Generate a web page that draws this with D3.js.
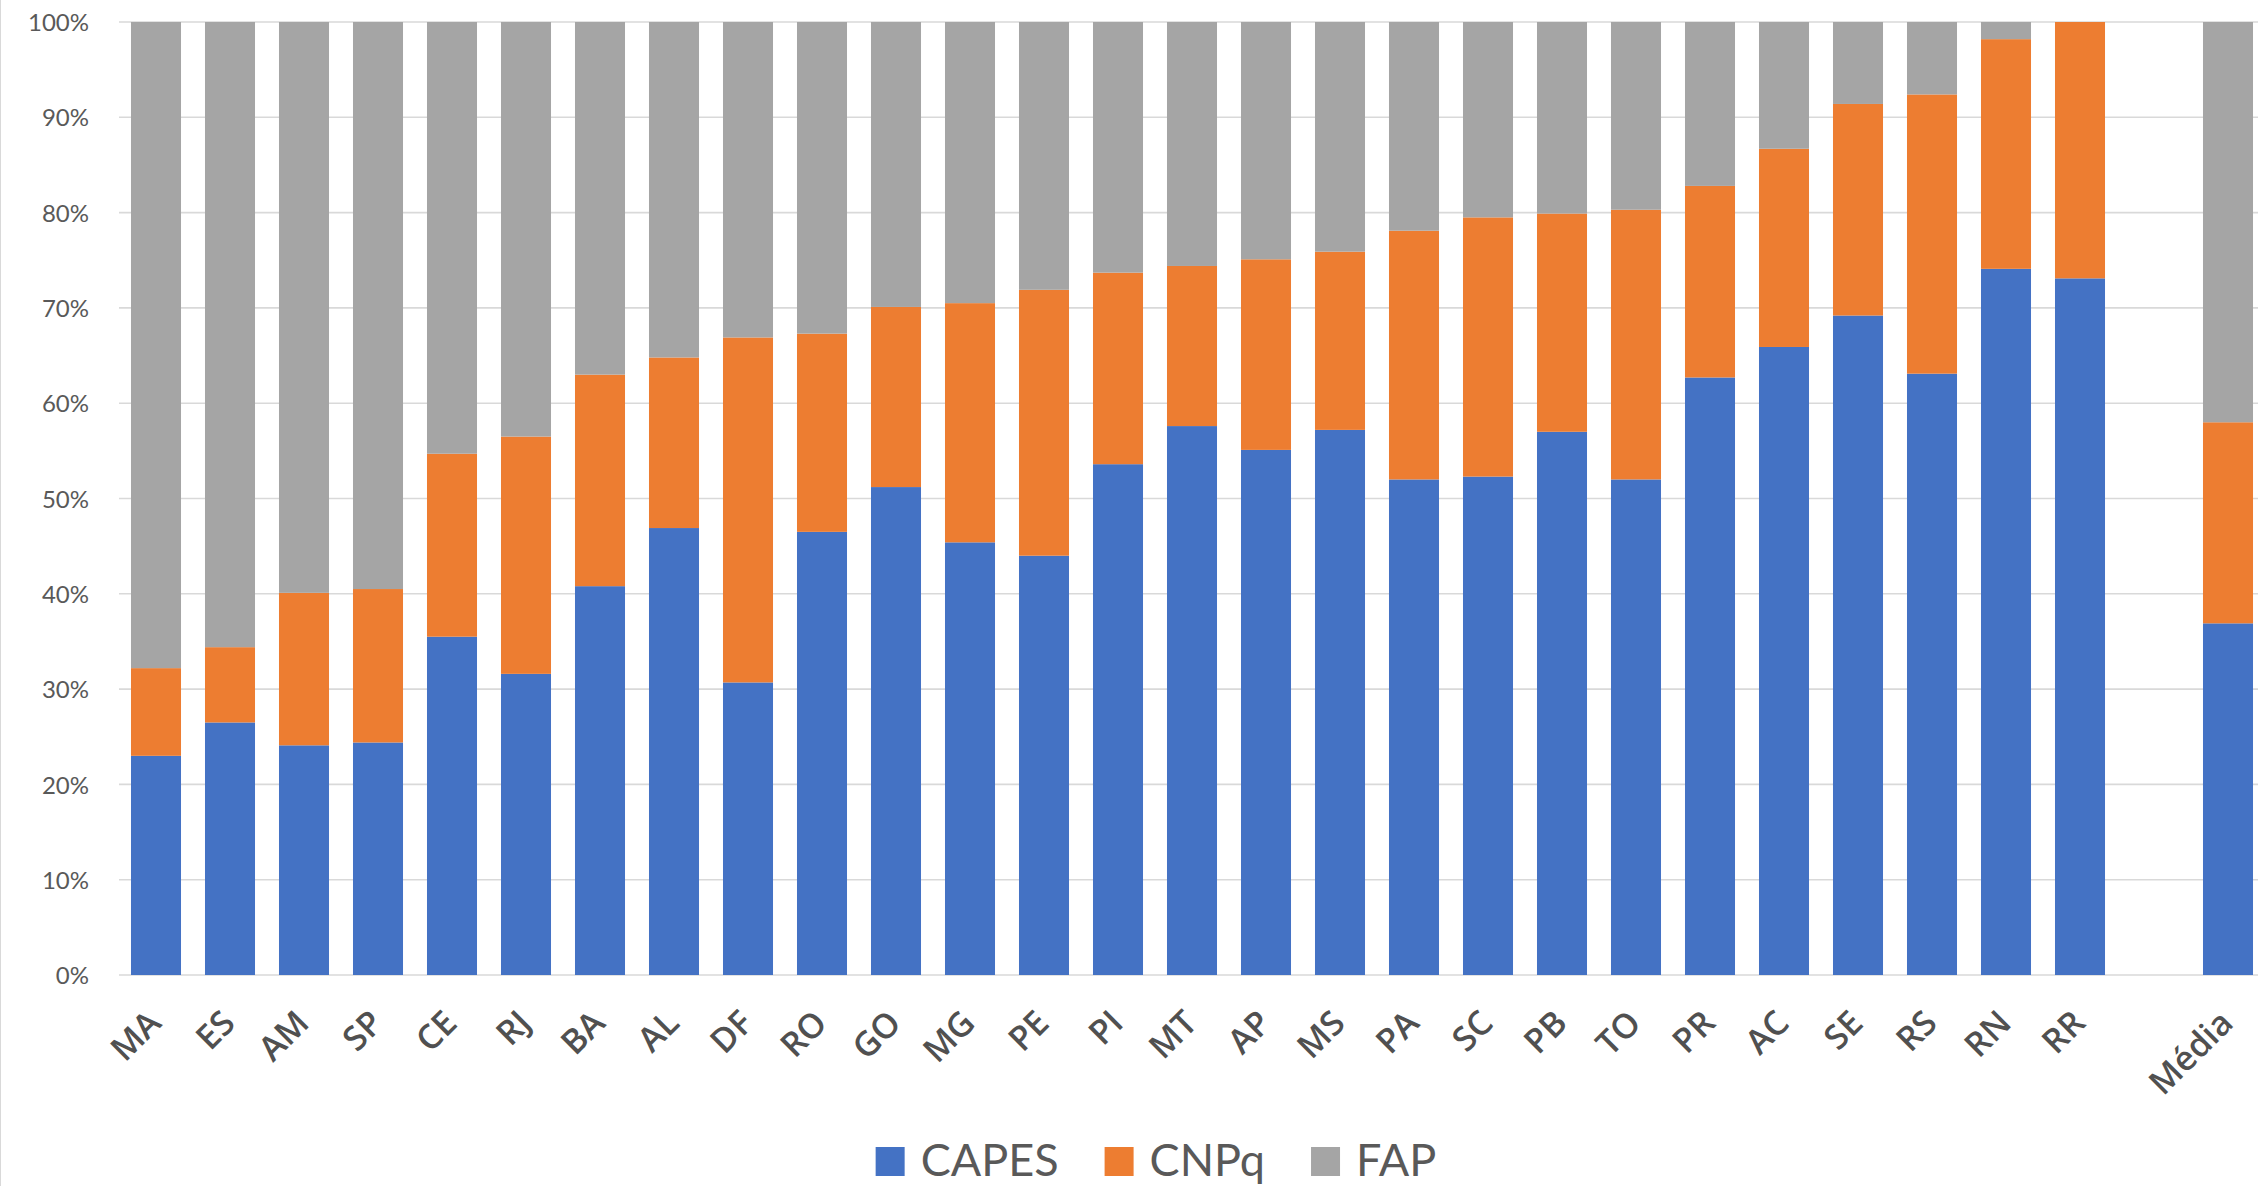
<!DOCTYPE html>
<html>
<head>
<meta charset="utf-8">
<script src="https://cdn.jsdelivr.net/npm/d3@7"></script>
<style>
  html, body { margin: 0; padding: 0; background: #fff; }
  svg { display: block; }
</style>
</head>
<body>
<svg id="chart" width="2258" height="1186"></svg>
<script>
const categories = ["MA","ES","AM","SP","CE","RJ","BA","AL","DF","RO","GO","MG","PE","PI","MT","AP","MS","PA","SC","PB","TO","PR","AC","SE","RS","RN","RR","","Média"];
const capes = [23.0,26.5,24.1,24.4,35.5,31.6,40.8,46.9,30.7,46.5,51.2,45.4,44.0,53.6,57.6,55.1,57.2,52.0,52.3,57.0,52.0,62.7,65.9,69.2,63.1,74.1,73.1,null,36.9];
const cnpq  = [9.2,7.9,16.0,16.1,19.2,24.9,22.2,17.9,36.2,20.8,18.9,25.1,27.9,20.1,16.8,20.0,18.7,26.1,27.2,22.9,28.3,20.1,20.8,22.2,29.3,24.1,26.9,null,21.1];
const fap   = [67.8,65.6,59.9,59.5,45.3,43.5,37.0,35.2,33.1,32.7,29.9,29.5,28.1,26.3,25.6,24.9,24.1,21.9,20.5,20.1,19.7,17.2,13.3,8.6,7.6,1.8,0.0,null,42.0];
const seriesNames = ["CAPES","CNPq","FAP"];
const seriesColors = ["#4472C4","#ED7D31","#A5A5A5"];
const yTicks = [0,10,20,30,40,50,60,70,80,90,100];

const rows = categories.map((c,i) => ({key: "k"+i, label: c, CAPES: capes[i] || 0, CNPq: cnpq[i] || 0, FAP: fap[i] || 0}));

const svg = d3.select("#chart");
const plotLeft = 119, plotRight = 2265, plotTop = 22, plotBottom = 975;

const x = d3.scaleBand().domain(rows.map(d => d.key)).range([plotLeft, plotRight])
  .paddingInner(0.324).paddingOuter(0.162);
const y = d3.scaleLinear().domain([0, 100]).range([plotBottom, plotTop]);

// left border of chart area
svg.append("line").attr("x1",0.5).attr("x2",0.5).attr("y1",0).attr("y2",1186)
  .attr("stroke","#d9d9d9").attr("stroke-width",1);

// gridlines
svg.append("g").selectAll("line").data(yTicks).join("line")
  .attr("x1", plotLeft).attr("x2", plotRight)
  .attr("y1", d => y(d)).attr("y2", d => y(d))
  .attr("stroke", "#d9d9d9").attr("stroke-width", 1.6);

// y axis labels
const yAxis = d3.axisLeft(y).tickValues(yTicks).tickFormat(d => d + "%").tickSize(0).tickPadding(0);
const yg = svg.append("g").attr("transform", `translate(${plotLeft - 30},0)`).call(yAxis);
yg.select(".domain").remove();
yg.selectAll("text").attr("font-family", "Lato, 'Open Sans', sans-serif")
  .attr("font-size", 24).attr("fill", "#595959").attr("dy", "0.36em");

// stacked bars
const stack = d3.stack().keys(seriesNames)(rows);
const color = d3.scaleOrdinal().domain(seriesNames).range(seriesColors);
svg.append("g").selectAll("g").data(stack).join("g")
  .attr("fill", d => color(d.key))
  .selectAll("rect").data(d => d.filter(p => p[1] - p[0] > 0)).join("rect")
  .attr("x", d => x(d.data.key))
  .attr("width", x.bandwidth())
  .attr("y", d => y(d[1]))
  .attr("height", d => y(d[0]) - y(d[1]));

// x axis labels
const xAxis = d3.axisBottom(x).tickFormat((k,i) => rows[i].label).tickSize(0).tickPadding(0);
const xg = svg.append("g").attr("transform", `translate(0,${plotBottom})`).call(xAxis);
xg.select(".domain").remove();
xg.selectAll("text")
  .attr("font-family", "'Open Sans', Lato, sans-serif")
  .attr("font-size", 34).attr("font-weight", 600).attr("fill", "#505050")
  .attr("text-anchor", "end")
  .attr("dy", 0).attr("y", 0)
  .attr("transform", "translate(7,50) rotate(-45)");

// legend
const legend = svg.append("g");
const legendFont = 45, sq = 29, gapText = 16, gapItem = 46;
const items = legend.selectAll("g").data(seriesNames).join("g");
items.append("rect").attr("width", sq).attr("height", sq).attr("y", -sq)
  .attr("fill", d => color(d));
items.append("text").text(d => d).attr("x", sq + gapText).attr("y", 0)
  .attr("font-family", "Lato, 'Open Sans', sans-serif")
  .attr("font-size", legendFont).attr("fill", "#595959");
let cx = 0;
items.each(function() {
  const g = d3.select(this);
  const w = sq + gapText + g.select("text").node().getComputedTextLength();
  g.attr("data-x", cx);
  cx += w + gapItem;
});
const totalW = cx - gapItem;
const startX = 1156 - totalW / 2;
items.attr("transform", function() { return `translate(${startX + +d3.select(this).attr("data-x")},1176)`; });
</script>
</body>
</html>
